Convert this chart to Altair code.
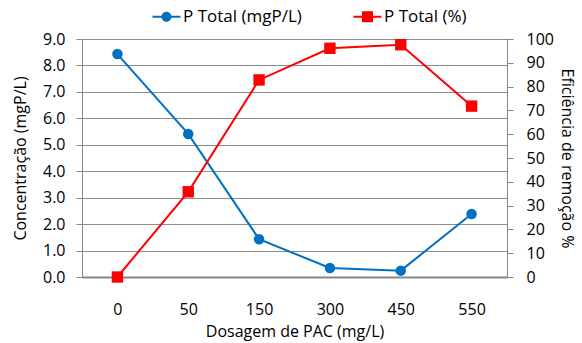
import altair as alt
import pandas as pd

doses = ["0", "50", "150", "300", "450", "550"]
conc = [8.43, 5.41, 1.43, 0.34, 0.24, 2.38]
eff = [0.0, 35.8, 82.8, 96.1, 97.6, 71.8]
series_names = ["P Total (mgP/L)", "P Total (%)"]
colors = ["#0070C0", "#FF0000"]

FONT = "Open Sans"
FS = 16
LFS = 17
common = dict(labelFont=FONT, labelFontSize=FS, labelColor="#000",
              titleFont=FONT, titleFontSize=FS, titleFontWeight="normal", titleColor="#000",
              labelOverlap=False)

df = pd.DataFrame({"dose": doses, "conc": conc, "eff": eff})
legend_df = pd.DataFrame({"series": series_names})

x_axis = alt.Axis(title="Dosagem de PAC (mg/L)", labelAngle=0, ticks=False,
                  domainColor="#868686", domainWidth=2, labelPadding=24,
                  titlePadding=6, **common)
x_scale = alt.Scale(type="point", padding=0.5)

left_axis = alt.Axis(title="Concentração (mgP/L)", values=list(range(10)), format=".1f",
                     grid=True, gridColor="#8c8c8c", domainColor="#868686", tickColor="#868686",
                     tickSize=6, labelPadding=11, titlePadding=14, **common)
right_axis = alt.Axis(title="Eficiência de remoção %", values=list(range(0, 101, 10)),
                      grid=False, domainColor="#868686", tickColor="#868686", orient="right",
                      tickSize=6, labelPadding=13, titlePadding=5, **common)
left_scale = alt.Scale(domain=[0, 9], nice=False)
right_scale = alt.Scale(domain=[0, 100], nice=False)


def xe():
    return alt.X("dose:O", sort=doses, scale=x_scale, axis=x_axis)


blue_line = alt.Chart(df).mark_line(color=colors[0], strokeWidth=2).encode(
    x=xe(), y=alt.Y("conc:Q", scale=left_scale, axis=left_axis))
blue_pts = alt.Chart(df).mark_point(color=colors[0], filled=True, opacity=1, size=110, shape="circle").encode(
    x=xe(), y=alt.Y("conc:Q", scale=left_scale, axis=left_axis))

red_line = alt.Chart(df).mark_line(color=colors[1], strokeWidth=2).encode(
    x=xe(), y=alt.Y("eff:Q", scale=right_scale, axis=right_axis))
red_pts = alt.Chart(df).mark_point(color=colors[1], filled=True, opacity=1, size=130, shape="square").encode(
    x=xe(), y=alt.Y("eff:Q", scale=right_scale, axis=right_axis))

circle_path = ("M-2.8,-0.2H-0.9V0.2H-2.8Z M0.9,-0.2H2.8V0.2H0.9Z "
               "M1,0A1,1,0,1,1,-1,0A1,1,0,1,1,1,0Z")
square_path = ("M-2.8,-0.2H-1.1V0.2H-2.8Z M1.1,-0.2H2.8V0.2H1.1Z "
               "M-1.1,-1.1H1.1V1.1H-1.1Z")

leg = dict(title=None, orient="none", direction="horizontal",
           legendX=76, legendY=-31, symbolSize=100,
           labelOffset=8, columnPadding=51,
           labelFont=FONT, labelFontSize=LFS, labelColor="#000")

legend_layer = alt.Chart(legend_df).mark_point(filled=True, size=100, opacity=1).encode(
    color=alt.Color("series:N", scale=alt.Scale(domain=series_names, range=colors),
                    legend=alt.Legend(**leg)),
    shape=alt.Shape("series:N", scale=alt.Scale(domain=series_names, range=[circle_path, square_path]),
                    legend=alt.Legend(**leg)),
).transform_filter("false")

left = alt.layer(blue_line, blue_pts)
right = alt.layer(red_line, red_pts)

chart = alt.layer(left, right, legend_layer).resolve_scale(y="independent").properties(
    width=425, height=238,
    autosize=alt.AutoSizeParams(type="none"),
    padding={"left": 82, "top": 39, "right": 75, "bottom": 66},
).configure(background="white").configure_view(stroke=None).configure_legend(
    labelFont=FONT, labelFontSize=LFS, labelColor="#000", symbolSize=100,
    labelOffset=8, columnPadding=51)

chart.save("out.html", embed_options={"renderer": "svg", "actions": False})
